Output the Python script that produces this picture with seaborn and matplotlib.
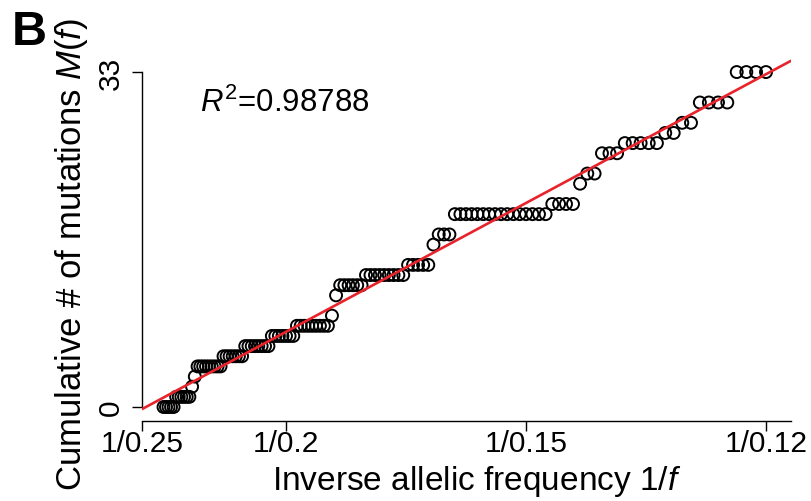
import numpy as np
import pandas as pd
import matplotlib
matplotlib.use("Agg")
import matplotlib.pyplot as plt
import seaborn as sns

# ---- data ----
# allelic frequency grid f (high -> low), step 0.001
freq_grid = np.round(np.linspace(0.241, 0.120, 122), 3)
# cumulative mutation count M(f): level and number of consecutive grid points at that level
m_levels = [0, 1, 2, 3, 4, 5, 6, 7, 8, 9, 11, 12, 13, 14, 16, 17, 19, 20, 22, 23, 25, 26, 27, 28, 30, 33]
m_run_lengths = [5, 6, 1, 1, 9, 7, 8, 7, 9, 1, 1, 6, 9, 5, 1, 3, 16, 4, 1, 2, 3, 5, 2, 2, 4, 4]
tick_freqs = [0.25, 0.2, 0.15, 0.12]
tick_labels = ["1/0.25", "1/0.2", "1/0.15", "1/0.12"]
r2_text = "$\\mathit{R}^2$=0.98788"

m_values = np.repeat(m_levels, m_run_lengths)
df = pd.DataFrame({"inv_f": 1.0 / freq_grid, "M": m_values})

sns.set_style("ticks")
plt.rcParams["font.family"] = ["Liberation Sans", "DejaVu Sans"]
plt.rcParams["mathtext.fontset"] = "custom"
plt.rcParams["mathtext.rm"] = "Liberation Sans"
plt.rcParams["mathtext.it"] = "Liberation Sans:italic"
plt.rcParams["mathtext.bf"] = "Liberation Sans:bold"
for k in ["text.color", "axes.labelcolor", "xtick.color", "ytick.color", "axes.edgecolor"]:
    plt.rcParams[k] = "black"

W, H = 811, 502
fig = plt.figure(figsize=(W / 100, H / 100), dpi=100)
ax_left, ax_right, ax_bot, ax_top = 142, 791, 422, 60
ax = fig.add_axes([ax_left / W, (H - ax_bot) / H, (ax_right - ax_left) / W, (ax_bot - ax_top) / H])

px_per_x = 144.0
px_per_y = 10.15
y0_px = 408
ax.set_xlim(4.0, 4.0 + (ax_right - ax_left) / px_per_x)
ax.set_ylim((y0_px - ax_bot) / px_per_y, (y0_px - ax_top) / px_per_y)

sns.regplot(data=df, x="inv_f", y="M", ax=ax, scatter=False, ci=None, truncate=False,
            color="#e8232b", line_kws={"lw": 1.9, "zorder": 3})
sns.scatterplot(data=df, x="inv_f", y="M", ax=ax, marker="o", s=74,
                facecolor="none", edgecolor="black", linewidth=1.4, zorder=2)

ax.set_xticks([1 / f for f in tick_freqs])
ax.set_xticklabels(tick_labels)
ax.set_yticks([0, 33])
ax.set_yticklabels(["0", "33"], rotation=90, va="center")

for s in ["top", "right"]:
    ax.spines[s].set_visible(False)
ax.spines["left"].set_bounds(0, 33)
ax.spines["left"].set_linewidth(1.0)
ax.spines["bottom"].set_linewidth(1.0)
ax.tick_params(axis="both", direction="out", length=7, width=1.0, labelsize=21.5, colors="black")
ax.tick_params(axis="x", pad=-1)
ax.tick_params(axis="y", pad=5)

ax.set_xlabel("Inverse allelic frequency $\\mathit{1/f}$", fontsize=24)
ax.xaxis.set_label_coords((477 - ax_left) / (ax_right - ax_left), (ax_bot - 464) / (ax_bot - ax_top))
ax.set_ylabel("Cumulative # of mutations $\\mathit{M(f)}$", fontsize=25)
ax.yaxis.set_label_coords((90 - ax_left) / (ax_right - ax_left), (ax_bot - 254) / (ax_bot - ax_top))

fig.text(200 / W, 1 - 112 / H, r2_text, fontsize=22.5, ha="left", va="baseline")
fig.text(12 / W, 1 - 45 / H, "B", fontsize=35, fontweight="bold", ha="left", va="baseline")

fig.savefig("out.png", dpi=100)
